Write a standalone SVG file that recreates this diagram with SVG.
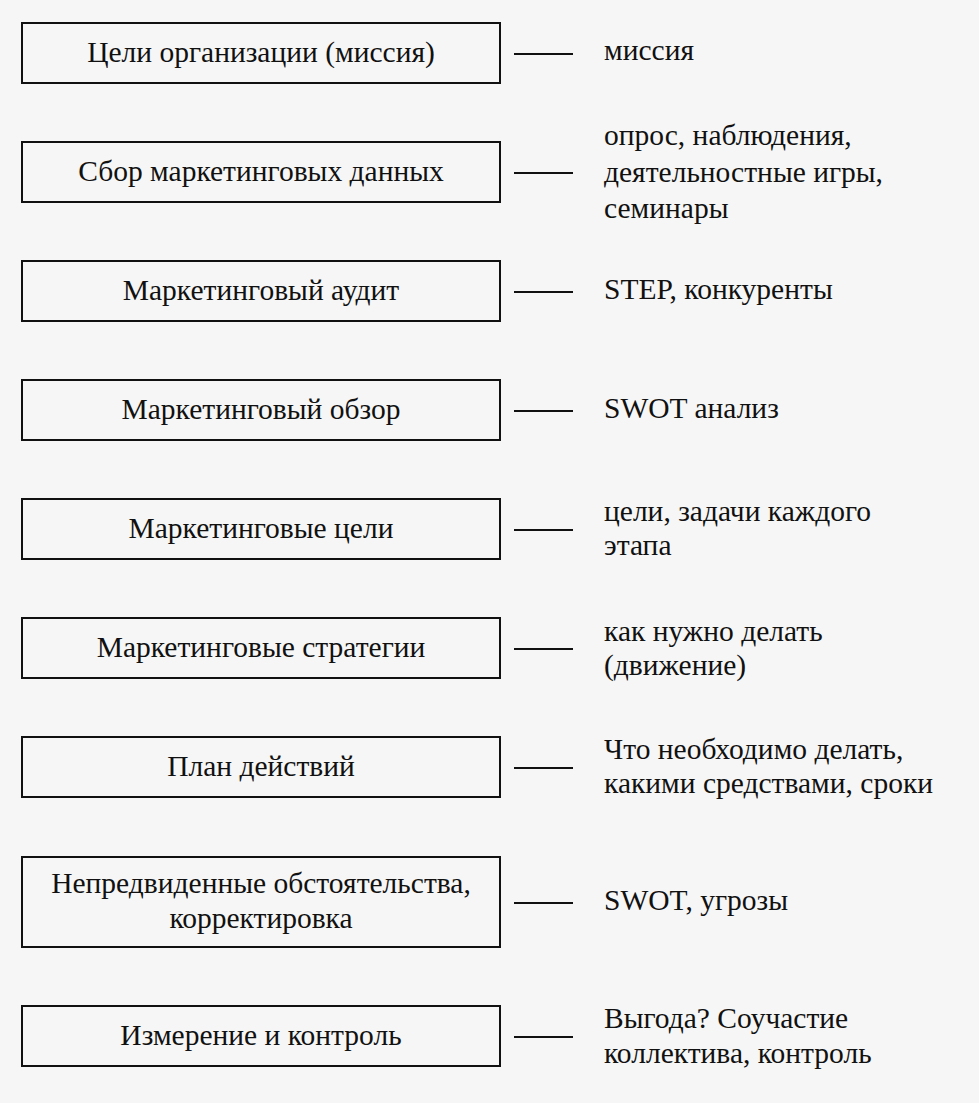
<svg xmlns="http://www.w3.org/2000/svg" width="979" height="1103" viewBox="0 0 979 1103">
<style>
.box{fill:none;stroke:#111;stroke-width:2}
.t{font-family:"Liberation Serif","Times New Roman",serif;font-size:29.5px;fill:#111}
.c{text-anchor:middle}
.dash{stroke:#111;stroke-width:2}
</style>
<rect width="979" height="1103" fill="#f6f6f6"/>
<g id="n1"><rect class="box" x="22" y="23" width="478" height="60"/><text class="t c" x="261" y="62">Цели организации (миссия)</text></g>
<g id="n2"><rect class="box" x="22" y="142" width="478" height="60"/><text class="t c" x="261" y="181">Сбор маркетинговых данных</text></g>
<g id="n3"><rect class="box" x="22" y="261" width="478" height="60"/><text class="t c" x="261" y="300">Маркетинговый аудит</text></g>
<g id="n4"><rect class="box" x="22" y="380" width="478" height="60"/><text class="t c" x="261" y="419">Маркетинговый обзор</text></g>
<g id="n5"><rect class="box" x="22" y="499" width="478" height="60"/><text class="t c" x="261" y="538">Маркетинговые цели</text></g>
<g id="n6"><rect class="box" x="22" y="618" width="478" height="60"/><text class="t c" x="261" y="657">Маркетинговые стратегии</text></g>
<g id="n7"><rect class="box" x="22" y="737" width="478" height="60"/><text class="t c" x="261" y="776">План действий</text></g>
<g id="n8"><rect class="box" x="22" y="857" width="478" height="90"/><text class="t c" x="261" y="893">Непредвиденные обстоятельства,</text><text class="t c" x="261" y="928">корректировка</text></g>
<g id="n9"><rect class="box" x="22" y="1006" width="478" height="60"/><text class="t c" x="261" y="1045">Измерение и контроль</text></g>
<g id="connectors">
<line class="dash" x1="514" y1="54" x2="573" y2="54"/>
<line class="dash" x1="514" y1="173" x2="573" y2="173"/>
<line class="dash" x1="514" y1="292" x2="573" y2="292"/>
<line class="dash" x1="514" y1="411" x2="573" y2="411"/>
<line class="dash" x1="514" y1="530" x2="573" y2="530"/>
<line class="dash" x1="514" y1="649" x2="573" y2="649"/>
<line class="dash" x1="514" y1="768" x2="573" y2="768"/>
<line class="dash" x1="514" y1="903" x2="573" y2="903"/>
<line class="dash" x1="514" y1="1037" x2="573" y2="1037"/>
</g>
<g id="notes">
<text class="t" x="604" y="60">миссия</text>
<text class="t" x="604" y="145">опрос, наблюдения,</text>
<text class="t" x="604" y="182">деятельностные игры,</text>
<text class="t" x="604" y="218">семинары</text>
<text class="t" x="604" y="299">STEP, конкуренты</text>
<text class="t" x="604" y="418">SWOT анализ</text>
<text class="t" x="604" y="521">цели, задачи каждого</text>
<text class="t" x="604" y="555">этапа</text>
<text class="t" x="604" y="641">как нужно делать</text>
<text class="t" x="604" y="675">(движение)</text>
<text class="t" x="604" y="759">Что необходимо делать,</text>
<text class="t" x="604" y="793">какими средствами, сроки</text>
<text class="t" x="604" y="910">SWOT, угрозы</text>
<text class="t" x="604" y="1028">Выгода? Соучастие</text>
<text class="t" x="604" y="1063">коллектива, контроль</text>
</g>
</svg>
